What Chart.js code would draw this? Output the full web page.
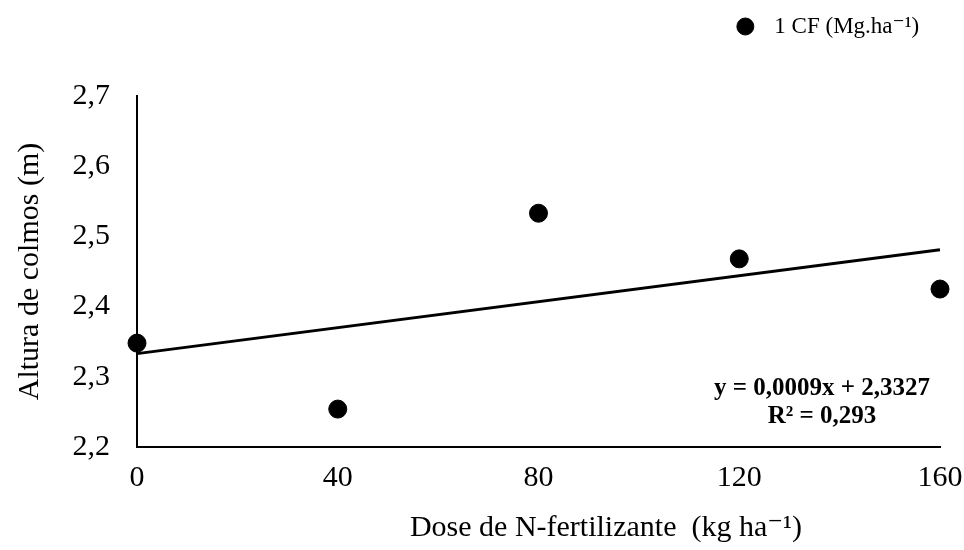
<!DOCTYPE html>
<html>
<head>
<meta charset="utf-8">
<script src="https://cdn.jsdelivr.net/npm/chart.js@4"></script>
<style>
  html, body { margin: 0; padding: 0; background: #fff; }
  #wrap { width: 964px; height: 550px; }
</style>
</head>
<body>
<div id="wrap"><canvas id="grafico" width="964" height="550"></canvas></div>
<script>
// dados
const doses = [0, 40, 80, 120, 160];
const alturas = [2.348, 2.254, 2.533, 2.468, 2.425];
const trendX = [0, 160];
const trendY = [2.333, 2.481];
const equacao = ["y = 0,0009x + 2,3327", "R² = 0,293"];
const serieNome = "1 CF (Mg.ha⁻¹)";
const tituloX = "Dose de N-fertilizante  (kg ha⁻¹)";
const tituloY = "Altura de colmos (m)";

const serif = "'Liberation Serif', 'DejaVu Serif', serif";

// altura fixa da legenda, para o gráfico começar no mesmo lugar
const legendaAltura = {
  id: "legendaAltura",
  beforeInit(chart) {
    const lg = chart.legend;
    if (!lg) return;
    const fitOrig = lg.fit;
    lg.fit = function () {
      fitOrig.call(this);
      this.height = 96;
    };
  }
};

// equação e título do eixo x (deslocado para a direita como no original)
const eqPlugin = {
  id: "eqPlugin",
  afterDraw(chart) {
    const ctx = chart.ctx;
    const a = chart.chartArea;
    ctx.save();
    ctx.fillStyle = "#000";
    ctx.textAlign = "center";
    ctx.textBaseline = "middle";
    ctx.font = "bold 25px " + serif;
    ctx.fillText(equacao[0], a.right - 118, a.bottom - 58);
    ctx.fillText(equacao[1], a.right - 118, a.bottom - 30);
    ctx.font = "30px " + serif;
    ctx.fillText(tituloX, a.left + 469, a.bottom + 81);
    ctx.restore();
  }
};

new Chart(document.getElementById("grafico"), {
  type: "scatter",
  data: {
    datasets: [
      {
        label: "  " + serieNome + " ",
        data: doses.map((d, i) => ({ x: d, y: alturas[i] })),
        backgroundColor: "#000",
        borderColor: "#000",
        pointRadius: 9,
        pointHoverRadius: 9,
        clip: false,
        order: 1
      },
      {
        label: "Linear",
        type: "line",
        data: trendX.map((d, i) => ({ x: d, y: trendY[i] })),
        borderColor: "#000",
        borderWidth: 3,
        pointRadius: 0,
        fill: false,
        clip: false,
        order: 2
      }
    ]
  },
  options: {
    responsive: false,
    animation: false,
    layout: { padding: { left: 8, right: 24, top: 0, bottom: 0 } },
    plugins: {
      tooltip: { enabled: false },
      legend: {
        position: "top",
        align: "end",
        labels: {
          filter: item => item.datasetIndex === 0,
          usePointStyle: true,
          pointStyle: "circle",
          boxWidth: 12,
          boxHeight: 12,
          padding: 15,
          color: "#000",
          font: { family: serif, size: 23 }
        }
      }
    },
    scales: {
      x: {
        type: "linear",
        min: 0,
        max: 160,
        grid: { display: false, drawTicks: false },
        border: { display: true, color: "#000", width: 2 },
        ticks: {
          stepSize: 40,
          autoSkip: false,
          maxRotation: 0,
          padding: 13,
          color: "#000",
          font: { family: serif, size: 30 }
        },
        title: { display: false },
        afterFit: s => { s.height = 103; s.paddingLeft = 0; s.paddingRight = 0; }
      },
      y: {
        min: 2.2,
        max: 2.7,
        grid: { display: false, drawTicks: false },
        border: { display: true, color: "#000", width: 2 },
        ticks: {
          stepSize: 0.1,
          padding: 27,
          color: "#000",
          font: { family: serif, size: 30 },
          callback: v => v.toFixed(1).replace(".", ",")
        },
        title: {
          display: true,
          text: tituloY,
          color: "#000",
          font: { family: serif, size: 30 },
          padding: { top: 4, bottom: 4 }
        },
        afterFit: s => { s.width = 129; s.paddingTop = 0; s.paddingBottom = 0; }
      }
    }
  },
  plugins: [legendaAltura, eqPlugin]
});
</script>
</body>
</html>
